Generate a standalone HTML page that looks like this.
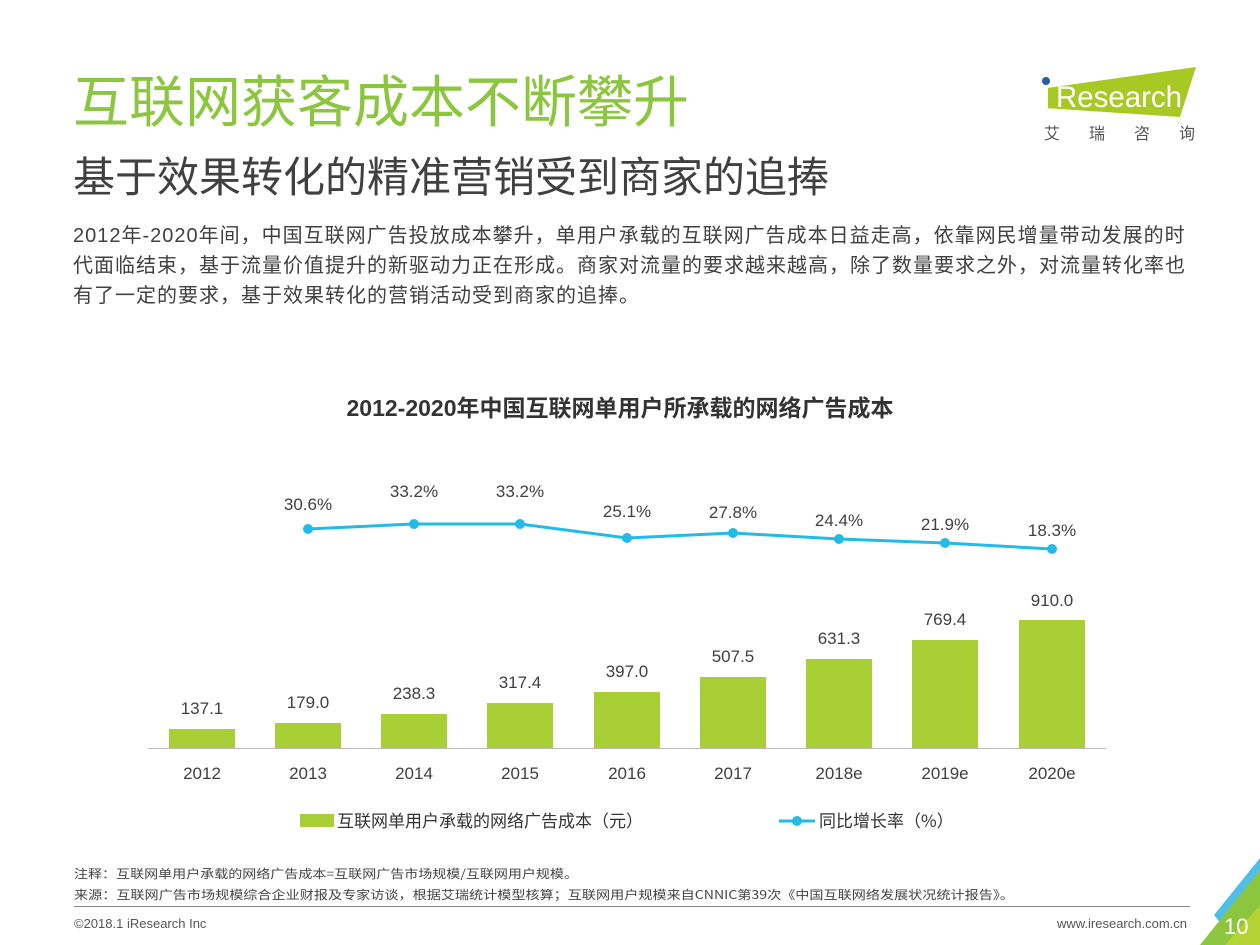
<!DOCTYPE html>
<html><head><meta charset="utf-8"><style>
body{margin:0;width:1260px;height:945px;background:#fff;position:relative;overflow:hidden;font-family:"Liberation Sans","Noto Sans CJK SC",sans-serif;}
.a{position:absolute;white-space:nowrap;}
</style></head><body>
<div class="a" style="left:73px;top:68px;font-size:56px;color:#8cc63f;line-height:70px;">互联网获客成本不断攀升</div>
<div class="a" style="left:73px;top:150px;font-size:42px;color:#404040;line-height:56px;">基于效果转化的精准营销受到商家的追捧</div>
<div class="a" style="left:73px;top:221px;font-size:20px;color:#404040;line-height:30px;letter-spacing:1px;">2012年-2020年间，中国互联网广告投放成本攀升，单用户承载的互联网广告成本日益走高，依靠网民增量带动发展的时<br>代面临结束，基于流量价值提升的新驱动力正在形成。商家对流量的要求越来越高，除了数量要求之外，对流量转化率也<br>有了一定的要求，基于效果转化的营销活动受到商家的追捧。</div>
<svg class="a" style="left:0;top:0" width="1260" height="945">
<polygon points="1047,88 1196,67 1180,117 1045,108" fill="#a8c923"/>
<circle cx="1046" cy="81" r="4" fill="#2a5caa"/>
<rect x="1043" y="88" width="5" height="20" fill="#fff"/>
<text x="1056" y="107" font-size="30" fill="#fff" font-family="Liberation Sans" textLength="126" lengthAdjust="spacingAndGlyphs">Research</text>
<text x="1044" y="139" font-size="16" fill="#555" letter-spacing="29" font-family="Noto Sans CJK SC">艾瑞咨询</text>
<text x="620" y="416" font-size="23" font-weight="bold" fill="#333" text-anchor="middle" font-family="Liberation Sans,Noto Sans CJK SC">2012-2020年中国互联网单用户所承载的网络广告成本</text>
<g fill="#a8cf35">
<rect x="169" y="729" width="66" height="19"/><rect x="275" y="723" width="66" height="25"/><rect x="381" y="714" width="66" height="34"/><rect x="487" y="703" width="66" height="45"/><rect x="594" y="692" width="66" height="56"/><rect x="700" y="677" width="66" height="71"/><rect x="806" y="659" width="66" height="89"/><rect x="912" y="640" width="66" height="108"/><rect x="1019" y="620" width="66" height="128"/>
</g>
<line x1="148" y1="748.5" x2="1106" y2="748.5" stroke="#bbb" stroke-width="1"/>
<g font-size="17" fill="#404040" text-anchor="middle" font-family="Liberation Sans">
<text x="202" y="714">137.1</text><text x="308" y="708">179.0</text><text x="414" y="699">238.3</text><text x="520" y="688">317.4</text><text x="627" y="677">397.0</text><text x="733" y="662">507.5</text><text x="839" y="644">631.3</text><text x="945" y="625">769.4</text><text x="1052" y="606">910.0</text>
<text x="202" y="779">2012</text><text x="308" y="779">2013</text><text x="414" y="779">2014</text><text x="520" y="779">2015</text><text x="627" y="779">2016</text><text x="733" y="779">2017</text><text x="839" y="779">2018e</text><text x="945" y="779">2019e</text><text x="1052" y="779">2020e</text>
<text x="308" y="510">30.6%</text><text x="414" y="497">33.2%</text><text x="520" y="497">33.2%</text><text x="627" y="517">25.1%</text><text x="733" y="518">27.8%</text><text x="839" y="526">24.4%</text><text x="945" y="530">21.9%</text><text x="1052" y="536">18.3%</text>
</g>
<polyline points="308,529 414,524 520,524 627,538 733,533 839,539 945,543 1052,549" fill="none" stroke="#22bbe8" stroke-width="3"/>
<g fill="#22bbe8"><circle cx="308" cy="529" r="5"/><circle cx="414" cy="524" r="5"/><circle cx="520" cy="524" r="5"/><circle cx="627" cy="538" r="5"/><circle cx="733" cy="533" r="5"/><circle cx="839" cy="539" r="5"/><circle cx="945" cy="543" r="5"/><circle cx="1052" cy="549" r="5"/></g>
<rect x="300" y="814" width="34" height="13" fill="#a8cf35"/>
<text x="337" y="827" font-size="17" fill="#333" font-family="Noto Sans CJK SC">互联网单用户承载的网络广告成本（元）</text>
<line x1="779" y1="821" x2="815" y2="821" stroke="#22bbe8" stroke-width="3"/><circle cx="797" cy="821" r="5" fill="#22bbe8"/>
<text x="819" y="827" font-size="17" fill="#333" font-family="Noto Sans CJK SC">同比增长率（%）</text>
<text x="74" y="878" font-size="12" fill="#444" font-family="Noto Sans CJK SC" textLength="504" lengthAdjust="spacingAndGlyphs">注释：互联网单用户承载的网络广告成本=互联网广告市场规模/互联网用户规模。</text>
<text x="74" y="899" font-size="12" fill="#444" font-family="Noto Sans CJK SC" textLength="940" lengthAdjust="spacingAndGlyphs">来源：互联网广告市场规模综合企业财报及专家访谈，根据艾瑞统计模型核算；互联网用户规模来自CNNIC第39次《中国互联网络发展状况统计报告》。</text>
<line x1="74" y1="906.5" x2="1190" y2="906.5" stroke="#888" stroke-width="1"/>
<text x="74" y="928" font-size="13" fill="#555" font-family="Liberation Sans">©2018.1 iResearch Inc</text>
<text x="1187" y="928" font-size="13" fill="#555" text-anchor="end" font-family="Liberation Sans">www.iresearch.com.cn</text>
<polygon points="1214,915 1260,858 1260,878 1222,925" fill="#4fbfe8"/>
<polygon points="1200,945 1260,870 1260,945" fill="#8cc63f"/>
<polygon points="1225,945 1260,905 1260,945" fill="#b5d334"/>
<text x="1224" y="934" font-size="22" fill="#fff" font-family="Liberation Sans">10</text>
</svg>
</body></html>
